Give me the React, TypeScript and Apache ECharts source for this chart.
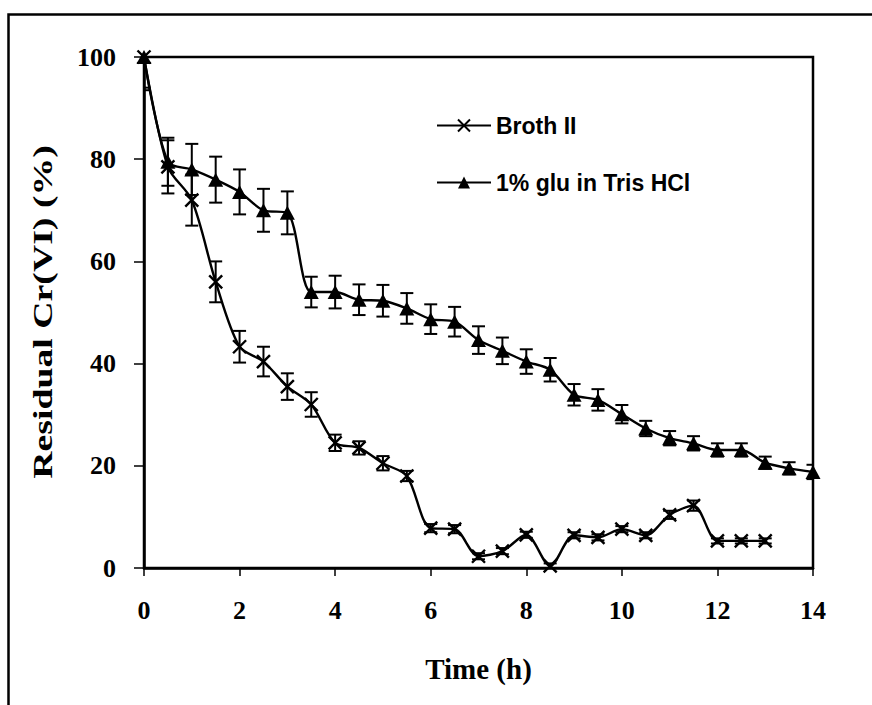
import React, { useEffect, useRef } from "react";
import * as echarts from "echarts";

const timeBroth = [0, 0.5, 1, 1.5, 2, 2.5, 3, 3.5, 4, 4.5, 5, 5.5, 6, 6.5, 7, 7.5, 8, 8.5, 9, 9.5, 10, 10.5, 11, 11.5, 12, 12.5, 13];
const brothValues = [100, 78.5, 72, 56, 43.3, 40.4, 35.5, 32, 24.5, 23.5, 20.5, 18, 7.8, 7.6, 2.3, 3.3, 6.5, 0.4, 6.4, 6, 7.6, 6.4, 10.4, 12.2, 5.3, 5.3, 5.3];
const brothErrors = [6, 5.2, 5, 4, 3.1, 2.9, 2.6, 2.4, 1.6, 1.3, 1.4, 1, 0.8, 0.8, 0.6, 0.6, 0.6, 0.5, 0.6, 0.6, 0.6, 0.6, 0.8, 1, 0.5, 0.5, 0.5];

const timeTris = [0, 0.5, 1, 1.5, 2, 2.5, 3, 3.5, 4, 4.5, 5, 5.5, 6, 6.5, 7, 7.5, 8, 8.5, 9, 9.5, 10, 10.5, 11, 11.5, 12, 12.5, 13, 13.5, 14];
const trisValues = [100, 79.5, 78, 76, 73.6, 70, 69.5, 54, 54, 52.5, 52.3, 50.8, 48.7, 48.2, 44.6, 42.5, 40.4, 38.8, 33.9, 32.9, 30.1, 27.3, 25.4, 24.4, 23.1, 23.1, 20.6, 19.5, 18.8];
const trisErrors = [6.5, 4.7, 5, 4.5, 4.4, 4.2, 4.2, 3, 3.2, 3, 3.1, 3, 2.9, 2.9, 2.7, 2.6, 2.4, 2.3, 2.1, 2.1, 1.8, 1.5, 1.4, 1.4, 1.3, 1.3, 1.2, 1.2, 1.4];

const xTicks = { min: 0, max: 14, interval: 2 };
const yTicks = { min: 0, max: 100, interval: 20 };

const seriesNames = ["Broth II", "1% glu in Tris HCl"];
const xTitle = "Time (h)";
const yTitle = "Residual Cr(VI) (%)";

const SERIF = '"Liberation Serif", "Times New Roman", serif';
const SANS = '"Liberation Sans", Arial, sans-serif';

const crossPath = "path://M0,0L10,10M10,0L0,10";

function errorRenderItem(params: any, api: any) {
  const x = api.value(0);
  const lo = api.value(1);
  const hi = api.value(2);
  const pLo = api.coord([x, lo]);
  const pHi = api.coord([x, hi]);
  const half = 6.5;
  const style = { stroke: "#000", lineWidth: 2 };
  return {
    type: "group",
    children: [
      { type: "line", shape: { x1: pHi[0], y1: pHi[1], x2: pLo[0], y2: pLo[1] }, style },
      { type: "line", shape: { x1: pHi[0] - half, y1: pHi[1], x2: pHi[0] + half, y2: pHi[1] }, style },
      { type: "line", shape: { x1: pLo[0] - half, y1: pLo[1], x2: pLo[0] + half, y2: pLo[1] }, style },
    ],
  };
}

export default function App() {
  const ref = useRef<HTMLDivElement>(null);

  useEffect(() => {
    if (!ref.current) return;
    const chart = echarts.init(ref.current, null, { renderer: "svg" });

    const brothData = timeBroth.map((t, i) => [t, brothValues[i]]);
    const trisData = timeTris.map((t, i) => [t, trisValues[i]]);
    const brothErr = timeBroth.map((t, i) => [t, brothValues[i] - brothErrors[i], brothValues[i] + brothErrors[i]]);
    const trisErr = timeTris.map((t, i) => [t, trisValues[i] - trisErrors[i], trisValues[i] + trisErrors[i]]);

    chart.setOption({
      animation: false,
      backgroundColor: "#fff",
      grid: {
        left: 144,
        top: 57,
        right: 59,
        bottom: 137,
        show: true,
        borderColor: "#000",
        borderWidth: 2.5,
        containLabel: false,
      },
      legend: {
        orient: "vertical",
        left: 431,
        top: 109,
        itemWidth: 54,
        itemHeight: 15,
        itemGap: 34,
        data: seriesNames,
        textStyle: { fontFamily: SANS, fontWeight: "bold", fontSize: 23, color: "#000", padding: [0, 0, 0, 0] },
      },
      xAxis: {
        type: "value",
        min: xTicks.min,
        max: xTicks.max,
        interval: xTicks.interval,
        axisLine: { show: true, onZero: false, lineStyle: { color: "#000", width: 2.5 } },
        axisTick: { show: true, inside: false, length: 8, lineStyle: { color: "#000", width: 1.5 } },
        axisLabel: { margin: 29, fontFamily: SERIF, fontWeight: "bold", fontSize: 26, color: "#000" },
        splitLine: { show: false },
        name: xTitle,
        nameLocation: "middle",
        nameGap: 86,
        nameTextStyle: { fontFamily: SERIF, fontWeight: "bold", fontSize: 29, color: "#000" },
      },
      yAxis: {
        type: "value",
        min: yTicks.min,
        max: yTicks.max,
        interval: yTicks.interval,
        axisLine: { show: true, onZero: false, lineStyle: { color: "#000", width: 2.5 } },
        axisTick: { show: true, inside: false, length: 10, lineStyle: { color: "#000", width: 1.5 } },
        axisLabel: { margin: 28, fontFamily: SERIF, fontWeight: "bold", fontSize: 26, color: "#000" },
        splitLine: { show: false },
      },
      graphic: [
        {
          type: "rect",
          left: 6,
          top: 12,
          shape: { width: 900, height: 800 },
          style: { fill: "none", stroke: "#000", lineWidth: 2.5 },
          silent: true,
          z: -10,
        },
        {
          type: "text",
          x: 43,
          y: 312,
          rotation: Math.PI / 2,
          scaleX: 1.4,
          style: {
            text: yTitle,
            font: `bold 27px ${SERIF}`,
            fill: "#000",
            align: "center",
            verticalAlign: "middle",
          },
        },
      ],
      series: [
        {
          name: seriesNames[0],
          type: "line",
          data: brothData,
          smooth: 0.3,
          symbol: crossPath,
          symbolSize: 13,
          showAllSymbol: true,
          lineStyle: { color: "#000", width: 2.4 },
          itemStyle: { color: "#000", borderColor: "#000", borderWidth: 2.4 },
          z: 3,
        },
        {
          name: seriesNames[1],
          type: "line",
          data: trisData,
          smooth: 0.3,
          symbol: "triangle",
          symbolSize: [15, 14],
          showAllSymbol: true,
          lineStyle: { color: "#000", width: 2.4 },
          itemStyle: { color: "#000", borderColor: "#000", borderWidth: 0 },
          z: 3,
        },
        {
          type: "custom",
          name: "Broth II error",
          data: brothErr,
          renderItem: errorRenderItem,
          clip: true,
          encode: { x: 0, y: [1, 2] },
          z: 2,
          silent: true,
        },
        {
          type: "custom",
          name: "Tris error",
          data: trisErr,
          renderItem: errorRenderItem,
          clip: true,
          encode: { x: 0, y: [1, 2] },
          z: 2,
          silent: true,
        },
      ],
    });

    return () => chart.dispose();
  }, []);

  return (
    <div
      ref={ref}
      style={{ position: "fixed", left: 0, top: 0, width: 872, height: 705, background: "#fff" }}
    />
  );
}
